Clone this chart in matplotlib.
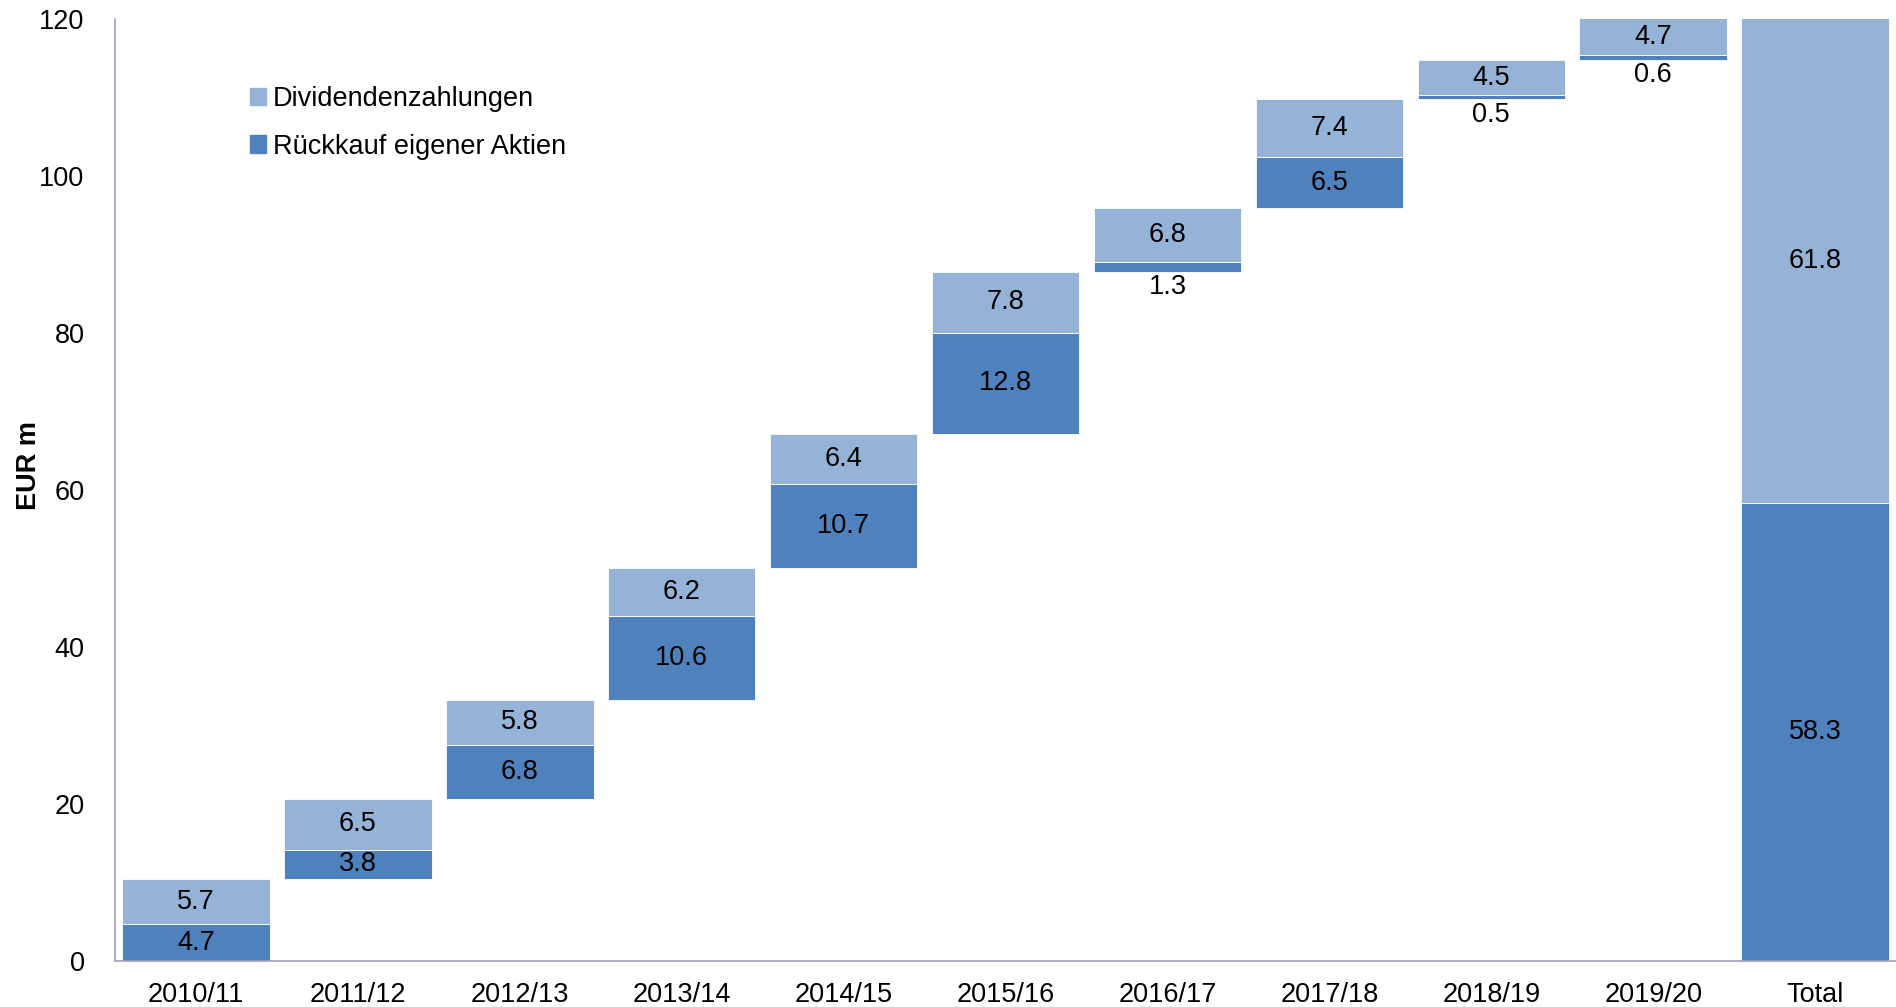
import numpy as np
import matplotlib
matplotlib.use("Agg")
import matplotlib.pyplot as plt
from matplotlib.patches import Patch

plt.rcParams['font.family'] = ['Liberation Sans', 'DejaVu Sans']

years = ['2010/11', '2011/12', '2012/13', '2013/14', '2014/15', '2015/16',
         '2016/17', '2017/18', '2018/19', '2019/20']
buyback = [4.7, 3.8, 6.8, 10.6, 10.7, 12.8, 1.3, 6.5, 0.5, 0.6]
dividends = [5.7, 6.5, 5.8, 6.2, 6.4, 7.8, 6.8, 7.4, 4.5, 4.7]

dark = '#4F81BD'
light = '#95B3D7'
fs = 19.5

fig = plt.figure(figsize=(18.96, 10.07), dpi=100)
ax = fig.add_axes([0.0607, 0.0457, 0.9393, 0.9353])

# waterfall: each year starts where the previous one ended
base = 0.0
x = np.arange(len(years) + 1)
w = 0.91
for i in range(len(years)):
    b, d = buyback[i], dividends[i]
    ax.bar(i, b, w, bottom=base, color=dark, edgecolor='white', linewidth=0.6)
    ax.bar(i, d, w, bottom=base + b, color=light, edgecolor='white', linewidth=0.6)
    if b >= 2:
        ax.text(i, base + b / 2, f'{b:.1f}', ha='center', va='center', fontsize=fs)
    else:
        ax.text(i, base - 0.3, f'{b:.1f}', ha='center', va='top', fontsize=fs)
    ax.text(i, base + b + d / 2, f'{d:.1f}', ha='center', va='center', fontsize=fs)
    base += b + d

tot_b = sum(buyback)
tot_d = sum(dividends)
n = len(years)
ax.bar(n, tot_b, w, color=dark, edgecolor='white', linewidth=0.6)
ax.bar(n, tot_d, w, bottom=tot_b, color=light, edgecolor='white', linewidth=0.6)
ax.text(n, tot_b / 2, f'{tot_b:.1f}', ha='center', va='center', fontsize=fs)
ax.text(n, tot_b + tot_d / 2, f'{tot_d:.1f}', ha='center', va='center', fontsize=fs)

ax.set_xlim(-0.5, n + 0.5)
ax.set_ylim(0, 120)
ax.set_xticks(x)
ax.set_xticklabels(years + ['Total'], fontsize=fs)
ax.set_yticks(range(0, 121, 20))
ax.tick_params(axis='y', labelsize=fs, length=0, pad=22)
ax.tick_params(axis='x', length=0, pad=15)
ax.set_ylabel('EUR m', fontsize=fs, fontweight='bold')
ax.yaxis.set_label_coords(-0.041, 0.526)

for s in ['top', 'right']:
    ax.spines[s].set_visible(False)
for s in ['left', 'bottom']:
    ax.spines[s].set_color('#A0A0C0')
    ax.spines[s].set_linewidth(1.2)

handles = [Patch(color=light, label='Dividendenzahlungen'),
           Patch(color=dark, label='Rückkauf eigener Aktien')]
ax.legend(handles=handles, loc='upper left', bbox_to_anchor=(0.062, 0.955),
          frameon=False, fontsize=fs, handlelength=0.6, handleheight=0.6,
          handletextpad=0.25, labelspacing=0.8)

fig.savefig('out.png', dpi=100)
